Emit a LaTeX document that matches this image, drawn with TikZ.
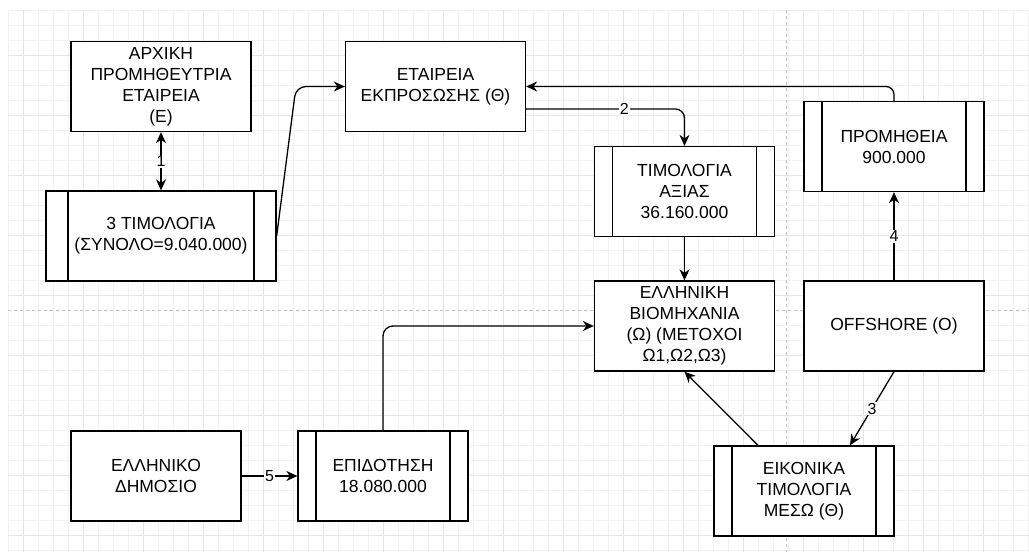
\documentclass[tikz,border=0pt]{standalone}
\usepackage{fontspec}
\setmainfont{Liberation Sans}
\usetikzlibrary{arrows.meta}
\tikzset{
  entity/.style={draw, line width=1.3pt, fill=white, minimum width=180pt, minimum height=90pt,
    inner sep=0pt, align=center, font=\fontsize{17.5}{21}\selectfont},
  procbox/.style={entity, path picture={
    \draw[line width=1.3pt] ([xshift=#1]path picture bounding box.north west) -- ([xshift=#1]path picture bounding box.south west)
      ([xshift=-#1]path picture bounding box.north east) -- ([xshift=-#1]path picture bounding box.south east);}},
  procbox/.default=18pt,
  tip/.tip={Stealth[length=11pt,width=10pt,inset=3.5pt]},
  flow/.style={line width=1.3pt, -tip},
  twoway/.style={line width=1.3pt, tip-tip},
  tag/.style={fill=white, inner sep=1pt, font=\fontsize{16}{16}\selectfont},
  gridminor/.style={draw=black!5, line width=0.8pt},
  gridmajor/.style={draw=black!10, line width=0.8pt},
  pagebreak/.style={draw=black!25, line width=0.8pt, dash pattern=on 3pt off 3pt},
}
\begin{document}
\begin{tikzpicture}[x=1pt, y=-1pt]
  \useasboundingbox (0,0) rectangle (1029,552);
  % background grid
  \foreach \gx in {8,23,...,1028} \draw[gridminor] (\gx,10) -- (\gx,552);
  \foreach \gy in {10,25,...,551} \draw[gridminor] (8,\gy) -- (1029,\gy);
  \foreach \gx in {23,83,...,1028} \draw[gridmajor] (\gx,10) -- (\gx,552);
  \foreach \gy in {55,115,...,551} \draw[gridmajor] (8,\gy) -- (1029,\gy);
  \draw[pagebreak] (786,10) -- (786,552);
  \draw[pagebreak] (8,310) -- (1029,310);

  % boxes
  \node[entity] (supplier) at (161,86.5) {ΑΡΧΙΚΗ\\ΠΡΟΜΗΘΕΥΤΡΙΑ\\ΕΤΑΙΡΕΙΑ\\(Ε)};
  \node[procbox=22pt, minimum width=230pt] (invoices) at (161,236) {3 ΤΙΜΟΛΟΓΙΑ\\(ΣΥΝΟΛΟ=9.040.000)};
  \node[entity] (agent) at (435.5,86.5) {ΕΤΑΙΡΕΙΑ\\ΕΚΠΡΟΣΩΣΗΣ (Θ)};
  \node[procbox] (value) at (684.5,191.5) {ΤΙΜΟΛΟΓΙΑ\\ΑΞΙΑΣ\\36.160.000};
  \node[procbox] (fee) at (894,146.5) {ΠΡΟΜΗΘΕΙΑ\\900.000};
  \node[entity] (industry) at (684.5,326) {ΕΛΛΗΝΙΚΗ\\ΒΙΟΜΗΧΑΝΙΑ\\(Ω) (ΜΕΤΟΧΟΙ\\Ω1,Ω2,Ω3)};
  \node[entity] (offshore) at (894,326) {OFFSHORE (O)};
  \node[procbox] (fake) at (804,491) {ΕΙΚΟΝΙΚΑ\\ΤΙΜΟΛΟΓΙΑ\\ΜΕΣΩ (Θ)};
  \node[entity, minimum width=170pt] (state) at (156,476) {ΕΛΛΗΝΙΚΟ\\ΔΗΜΟΣΙΟ};
  \node[procbox, minimum width=170pt] (grant) at (383,476) {ΕΠΙΔΟΤΗΣΗ\\18.080.000};

  % flows
  \draw[twoway] (supplier) -- node[tag] {1} (invoices);
  \draw[flow, rounded corners=10pt] (invoices.east) -- (296,86.5) -- (agent.west);
  \draw[flow, rounded corners=9pt] ([yshift=-22.5pt]agent.east) -- node[tag, pos=0.62] {2} (684.5,109) -- (value.north);
  \draw[flow, rounded corners=8pt] (fee.north) |- (agent.east);
  \draw[flow] (value) -- (industry);
  \draw[flow] (offshore) -- node[tag] {4} (fee);
  \draw[flow] (offshore.south) -- node[tag] {3} ([xshift=46pt]fake.north);
  \draw[flow] ([xshift=-46pt]fake.north) -- (industry.south);
  \draw[flow, rounded corners=10pt] (grant.north) |- (industry.west);
  \draw[flow] (state) -- node[tag] {5} (grant);
\end{tikzpicture}
\end{document}
